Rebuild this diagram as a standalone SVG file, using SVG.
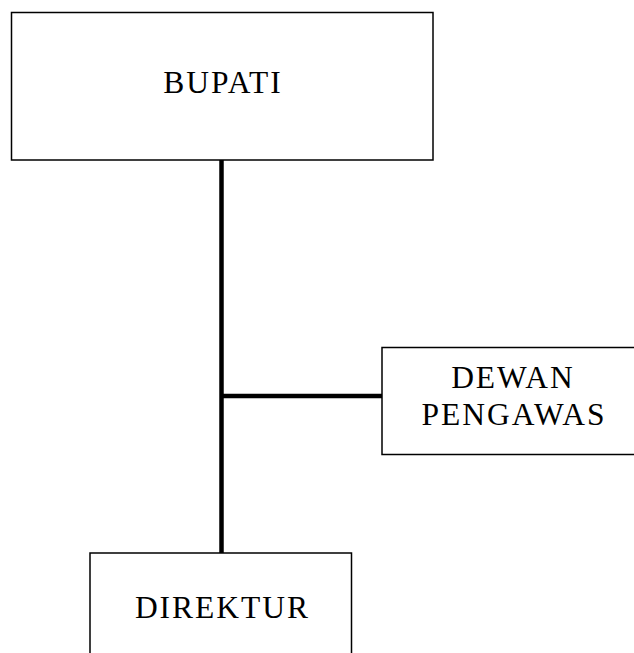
<svg xmlns="http://www.w3.org/2000/svg" width="634" height="653" viewBox="0 0 634 653">
<style>
.box{fill:#fff;stroke:#000;stroke-width:1.5}
.lbl{font-family:"Liberation Serif","DejaVu Serif",serif;font-size:31.5px;fill:#000;text-anchor:middle;letter-spacing:2px}
.conn{stroke:#000;stroke-width:4.5;fill:none}
</style>
<rect width="634" height="653" fill="#fff"/>
<g id="connectors">
<line class="conn" x1="221.5" y1="160" x2="221.5" y2="553"/>
<line class="conn" x1="221.5" y1="396" x2="382" y2="396"/>
</g>
<g id="bupati">
<rect class="box" x="11.5" y="12.5" width="421.5" height="147.5"/>
<text class="lbl" x="223" y="93">BUPATI</text>
</g>
<g id="dewan-pengawas">
<rect class="box" x="382" y="347.5" width="262" height="107"/>
<text class="lbl" x="513" y="388">DEWAN</text>
<text class="lbl" x="514" y="425">PENGAWAS</text>
</g>
<g id="direktur">
<rect class="box" x="90" y="553" width="261.5" height="110"/>
<text class="lbl" x="222.5" y="618">DIREKTUR</text>
</g>
</svg>
